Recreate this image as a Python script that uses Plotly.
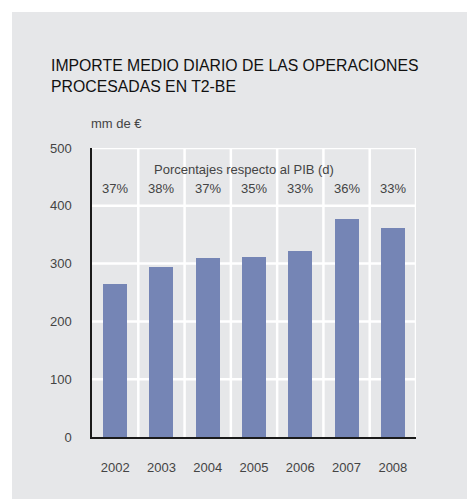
import plotly.graph_objects as go

years = ["2002", "2003", "2004", "2005", "2006", "2007", "2008"]
values = [265, 294, 309, 312, 322, 377, 362]
pct_labels = ["37%", "38%", "37%", "35%", "33%", "36%", "33%"]
y_ticks = [0, 100, 200, 300, 400, 500]

W, H = 467, 499
L, R, T, B = 92, 416, 148, 437
pw, ph = R - L, B - T

xs = list(range(len(years)))
fig = go.Figure()
fig.add_trace(go.Bar(x=xs, y=values, width=0.52, marker=dict(color="#7585b5", line=dict(width=0)),
                     hoverinfo="skip"))

shapes = []
# gray panel
shapes.append(dict(type="rect", xref="paper", yref="paper", layer="below",
                   x0=(12 - L) / pw, x1=(W + 5 - L) / pw, y0=(B - H - 5) / ph, y1=(B - 12) / ph,
                   fillcolor="#e6e7e9", line=dict(width=0)))
# vertical grid lines at category boundaries
for i in range(len(years)):
    shapes.append(dict(type="line", xref="x", yref="y", layer="below",
                       x0=i + 0.5, x1=i + 0.5, y0=0, y1=500, line=dict(color="white", width=2.5)))
# horizontal grid lines
for v in y_ticks[1:]:
    shapes.append(dict(type="line", xref="x", yref="y", layer="below",
                       x0=-0.5, x1=len(years) - 0.5, y0=v, y1=v, line=dict(color="white", width=2.5)))

annotations = []
annotations.append(dict(text="IMPORTE MEDIO DIARIO DE LAS OPERACIONES<br>PROCESADAS EN T2-BE",
                        xref="paper", yref="paper", x=(49 - L) / pw, y=(B - 55) / ph,
                        xanchor="left", yanchor="top", align="left", showarrow=False,
                        font=dict(size=15.8, color="#111111", family="Liberation Sans, Arial, sans-serif")))
annotations.append(dict(text="mm de €", xref="paper", yref="paper", x=(89 - L) / pw, y=(B - 123) / ph,
                        xanchor="left", yanchor="middle", showarrow=False,
                        font=dict(size=13, color="#444444")))
annotations.append(dict(text="Porcentajes respecto al PIB (d)", xref="paper", yref="paper",
                        x=(244 - L) / pw, y=(B - 169) / ph, xanchor="center", yanchor="middle",
                        showarrow=False, font=dict(size=13, color="#444444")))
for i, p in enumerate(pct_labels):
    annotations.append(dict(text=p, xref="x", yref="paper", x=i, y=(B - 188) / ph,
                            xanchor="center", yanchor="middle", showarrow=False,
                            font=dict(size=13, color="#444444")))

fig.update_layout(
    width=W, height=H,
    margin=dict(l=L, r=W - R, t=T, b=H - B, pad=0),
    paper_bgcolor="white", plot_bgcolor="rgba(0,0,0,0)",
    showlegend=False, bargap=0,
    font=dict(family="Liberation Sans, Arial, sans-serif", size=13, color="#444444"),
    shapes=shapes, annotations=annotations,
    xaxis=dict(range=[-0.5, len(years) - 0.5], tickvals=xs, ticktext=years, showgrid=False,
               zeroline=False, showline=True, linecolor="#1a1a1a", linewidth=1.5,
               ticks="", ticklabelstandoff=18, fixedrange=True),
    yaxis=dict(range=[0, 500], tickvals=y_ticks, showgrid=False, zeroline=False,
               showline=True, linecolor="#1a1a1a", linewidth=1.5, ticks="",
               ticklabelstandoff=16, fixedrange=True),
)

fig.write_html("out.html", config={"displayModeBar": False},
               post_script="document.body.style.margin='0';document.body.style.padding='0';")
